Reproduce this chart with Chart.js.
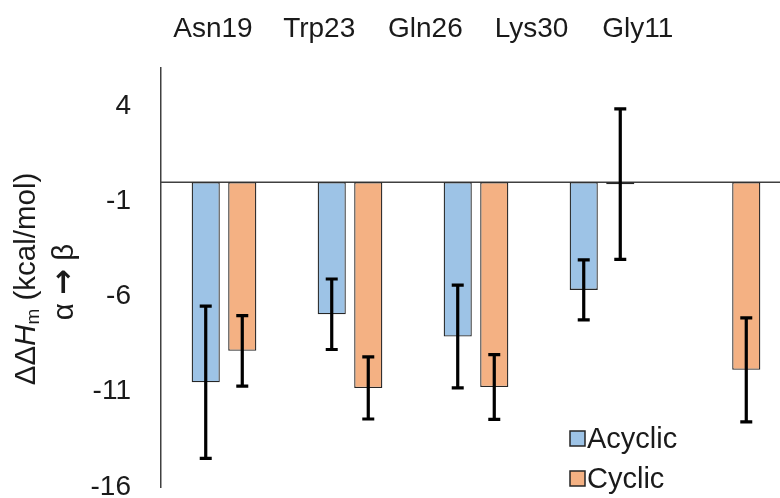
<!DOCTYPE html>
<html>
<head>
<meta charset="utf-8">
<script src="https://cdn.jsdelivr.net/npm/chart.js@4.4.0/dist/chart.umd.min.js"></script>
<style>
    body { margin: 0; background: #fff; }
    #caja { width: 780px; height: 498px; overflow: hidden; }
</style>
</head>
<body>
<div id="caja"><canvas id="myChart" width="800" height="498"></canvas></div>
<script>
// Datos
const categorias = ['Asn19', 'Trp23', 'Gln26', 'Lys30', 'Gly11'];
const acyclic = [-10.5, -6.93, -8.1, -5.65, null];
const acyclicErr = [4.0, 1.85, 2.7, 1.58, null];
const cyclic = [-8.85, -10.8, -10.75, -0.1, -9.85];
const cyclicErr = [1.85, 1.63, 1.7, 3.95, 2.73];
const ticksY = [-16, -11, -6, -1, 4];

const fuente = '"Liberation Sans", Arial, sans-serif';
const colorTexto = '#1a1a1a';

// Linea del cero
const lineaCero = {
    id: 'lineaCero',
    beforeDatasetsDraw(chart) {
        const ctx = chart.ctx;
        const y0 = chart.scales.y.getPixelForValue(0);
        ctx.save();
        ctx.strokeStyle = '#404040';
        ctx.lineWidth = 1.3;
        ctx.beginPath();
        ctx.moveTo(chart.chartArea.left, y0);
        ctx.lineTo(chart.chartArea.right, y0);
        ctx.stroke();
        ctx.restore();
    }
};

// Barras de error
const barrasError = {
    id: 'barrasError',
    afterDatasetsDraw(chart) {
        const ctx = chart.ctx;
        const escalaY = chart.scales.y;
        ctx.save();
        ctx.strokeStyle = '#000';
        ctx.lineWidth = 3.2;
        chart.data.datasets.forEach((ds, i) => {
            const meta = chart.getDatasetMeta(i);
            meta.data.forEach((barra, j) => {
                const v = ds.data[j];
                const e = ds.errores[j];
                if (v === null || e === null) return;
                const x = barra.x;
                const arriba = escalaY.getPixelForValue(v + e);
                const abajo = escalaY.getPixelForValue(v - e);
                ctx.beginPath();
                ctx.moveTo(x, arriba);
                ctx.lineTo(x, abajo);
                ctx.moveTo(x - 6, arriba);
                ctx.lineTo(x + 6, arriba);
                ctx.moveTo(x - 6, abajo);
                ctx.lineTo(x + 6, abajo);
                ctx.stroke();
            });
        });
        ctx.restore();
    }
};

// Textos: etiquetas de arriba, titulo del eje y leyenda
const textos = {
    id: 'textos',
    afterDraw(chart) {
        const ctx = chart.ctx;
        ctx.save();
        ctx.fillStyle = colorTexto;

        // etiquetas de categoria arriba
        ctx.font = '28px ' + fuente;
        ctx.textAlign = 'center';
        ctx.textBaseline = 'alphabetic';
        categorias.forEach((c, i) => {
            ctx.fillText(c, 213 + i * 106.2, 37);
        });

        // titulo del eje Y (dos lineas, girado)
        const partes = [
            { t: '\u0394\u0394', f: '29.5px ' + fuente, dy: 0 },
            { t: 'H', f: 'italic 29.5px ' + fuente, dy: 0 },
            { t: 'm', f: '19px ' + fuente, dy: 7 },
            { t: ' (kcal/mol)', f: '29.5px ' + fuente, dy: 0 }
        ];
        ctx.save();
        ctx.translate(27, 279);
        ctx.rotate(-Math.PI / 2);
        ctx.textAlign = 'left';
        ctx.textBaseline = 'middle';
        let total = 0;
        partes.forEach(p => { ctx.font = p.f; p.w = ctx.measureText(p.t).width; total += p.w; });
        let x = -total / 2;
        partes.forEach(p => { ctx.font = p.f; ctx.fillText(p.t, x, p.dy); x += p.w; });
        ctx.restore();

        // segunda linea: alfa -> beta con flecha gruesa
        const linea2 = [
            { t: '\u03b1 ', f: '29.5px ' + fuente },
            { t: '\u2192', f: 'bold 31px "DejaVu Sans", sans-serif' },
            { t: ' \u03b2', f: '29.5px ' + fuente }
        ];
        ctx.save();
        ctx.translate(65, 282);
        ctx.rotate(-Math.PI / 2);
        ctx.textAlign = 'left';
        ctx.textBaseline = 'middle';
        let total2 = 0;
        linea2.forEach(p => { ctx.font = p.f; p.w = ctx.measureText(p.t).width; total2 += p.w; });
        let x2 = -total2 / 2;
        linea2.forEach(p => { ctx.font = p.f; ctx.fillText(p.t, x2, 0); x2 += p.w; });
        ctx.restore();

        // leyenda
        chart.data.datasets.forEach((ds, i) => {
            const yc = 438.5 + i * 40;
            ctx.fillStyle = ds.backgroundColor;
            ctx.fillRect(570, yc - 7.5, 15, 15);
            ctx.strokeStyle = '#262626';
            ctx.lineWidth = 1.5;
            ctx.strokeRect(570, yc - 7.5, 15, 15);
            ctx.fillStyle = colorTexto;
            ctx.font = '29px ' + fuente;
            ctx.textAlign = 'left';
            ctx.textBaseline = 'middle';
            ctx.fillText(ds.label, 587, yc + 1);
        });
        ctx.restore();
    }
};

document.addEventListener('DOMContentLoaded', function() {
    const ctx = document.getElementById('myChart').getContext('2d');

    const myChart = new Chart(ctx, {
        type: 'bar',
        data: {
            labels: categorias,
            datasets: [{
                label: 'Acyclic',
                data: acyclic,
                errores: acyclicErr,
                backgroundColor: '#9DC3E6',
                borderColor: '#262626',
                borderWidth: 1.3,
                borderSkipped: false
            }, {
                label: 'Cyclic',
                data: cyclic,
                errores: cyclicErr,
                backgroundColor: '#F4B183',
                borderColor: '#262626',
                borderWidth: 1.3,
                borderSkipped: false
            }]
        },
        options: {
            responsive: false,
            animation: false,
            categoryPercentage: 0.58,
            barPercentage: 0.77,
            layout: { padding: { left: 0, top: 68, right: 9, bottom: 11 } },
            plugins: {
                legend: { display: false },
                tooltip: { enabled: false }
            },
            scales: {
                x: { display: false },
                y: {
                    min: -16,
                    max: 6,
                    afterBuildTicks: (scale) => { scale.ticks = ticksY.map(v => ({ value: v })); },
                    afterFit: (scale) => {
                        scale.width = 161;
                        scale.paddingTop = 0;
                        scale.paddingBottom = 0;
                    },
                    grid: { display: false, drawTicks: false },
                    border: { display: true, color: '#404040', width: 1.5 },
                    ticks: {
                        padding: 30,
                        color: colorTexto,
                        font: { family: fuente, size: 28 }
                    }
                }
            }
        },
        plugins: [lineaCero, barrasError, textos]
    });
});
</script>
</body>
</html>
